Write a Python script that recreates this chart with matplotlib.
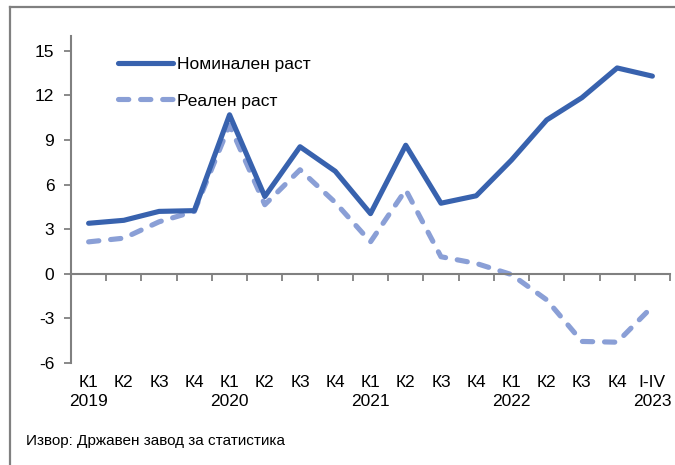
import matplotlib
matplotlib.use("Agg")
import matplotlib.pyplot as plt
from matplotlib.lines import Line2D
import matplotlib.transforms as mtransforms

plt.rcParams['font.family'] = ['Liberation Sans', 'DejaVu Sans']

categories = ["К1\n2019", "К2", "К3", "К4",
              "К1\n2020", "К2", "К3", "К4",
              "К1\n2021", "К2", "К3", "К4",
              "К1\n2022", "К2", "К3", "К4",
              "I-IV\n2023"]
nominal = [3.4, 3.6, 4.2, 4.25, 10.7, 5.2, 8.55, 6.9, 4.05, 8.65, 4.75, 5.25,
           7.65, 10.35, 11.85, 13.85, 13.3]
real = [2.15, 2.4, 3.5, 4.2, 10.0, 4.65, 7.0, 4.8, 2.15, 5.65, 1.15, 0.7,
        -0.05, -1.75, -4.55, -4.6, -2.2]
yticks = [-6, -3, 0, 3, 6, 9, 12, 15]
legend_labels = ["Номинален раст", "Реален раст"]
source = "Извор: Државен завод за статистика"

W, H = 675, 465
fig = plt.figure(figsize=(W / 100, H / 100), dpi=100)
ax = fig.add_axes([71 / W, 1 - 363 / H, (670 - 71) / W, (363 - 36) / H])

gray = "#808080"
c_nom = "#3862ae"
c_real = "#8a9fd6"

x = [i + 0.5 for i in range(len(categories))]
ax.plot(x, nominal, color=c_nom, lw=3.7, solid_capstyle='round', solid_joinstyle='round', zorder=3)
ax.plot(x, real, color=c_real, lw=3.7, dashes=(2.0, 2.3), dash_capstyle='round', zorder=2)

ax.set_xlim(0, len(categories))
ax.set_ylim(-6, 16)
ax.set_yticks(yticks)
ax.set_yticklabels([str(v) for v in yticks], fontsize=12.5)
ax.tick_params(axis='y', direction='out', length=5, width=1.3, color=gray, pad=7)

for s in ['top', 'right']:
    ax.spines[s].set_visible(False)
ax.spines['left'].set_color(gray)
ax.spines['left'].set_linewidth(1.5)
ax.spines['bottom'].set_position(('data', 0))
ax.spines['bottom'].set_color(gray)
ax.spines['bottom'].set_linewidth(1.5)
ax.set_xticks(range(len(categories) + 1))
ax.set_xticklabels([])
ax.tick_params(axis='x', direction='out', length=5, width=1.3, color=gray)

trans = mtransforms.blended_transform_factory(ax.transData, ax.transAxes)
for xi, lab in zip(x, categories):
    ax.text(xi, -0.037, lab, transform=trans, ha='center', va='top',
            fontsize=12.5, linespacing=1.35)

# legend
h1 = Line2D([], [], color=c_nom, lw=3.7, solid_capstyle='round')
h2 = Line2D([], [], color=c_real, lw=3.7, dashes=(2.0, 2.3), dash_capstyle='round')
leg = ax.legend([h1, h2], legend_labels, loc='upper left', bbox_to_anchor=(0.053, 0.985),
                frameon=False, fontsize=12.5, handlelength=3.15, handletextpad=0.2,
                labelspacing=1.25)

fig.text(26 / W, 1 - 441 / H, source, fontsize=11, va='center', ha='left')

# outer frame (left and top)
fig.add_artist(Line2D([10 / W, 10 / W], [0, 1 - 7 / H], color=gray, lw=1.6, transform=fig.transFigure))
fig.add_artist(Line2D([10 / W, 1], [1 - 7 / H, 1 - 7 / H], color=gray, lw=1.6, transform=fig.transFigure))

fig.savefig("out.png", dpi=100)
